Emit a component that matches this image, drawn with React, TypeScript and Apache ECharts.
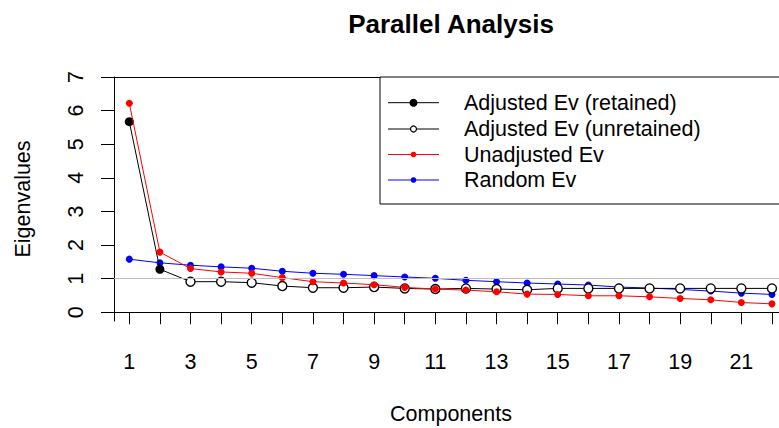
import React, { useEffect, useRef } from "react";
import * as echarts from "echarts";

const components = [1, 2, 3, 4, 5, 6, 7, 8, 9, 10, 11, 12, 13, 14, 15, 16, 17, 18, 19, 20, 21, 22];
const adjustedEv = [5.67, 1.28, 0.91, 0.91, 0.88, 0.78, 0.73, 0.73, 0.75, 0.71, 0.69, 0.71, 0.69, 0.67, 0.71, 0.71, 0.71, 0.71, 0.71, 0.71, 0.71, 0.71];
const retainedCount = 2;
const unadjustedEv = [6.22, 1.79, 1.3, 1.2, 1.16, 1.03, 0.91, 0.87, 0.82, 0.74, 0.69, 0.66, 0.61, 0.54, 0.53, 0.49, 0.49, 0.46, 0.41, 0.37, 0.29, 0.25];
const randomEv = [1.58, 1.47, 1.4, 1.35, 1.31, 1.22, 1.16, 1.13, 1.09, 1.05, 1.01, 0.95, 0.91, 0.87, 0.84, 0.81, 0.75, 0.72, 0.68, 0.63, 0.57, 0.53];
const yTicks = [0, 1, 2, 3, 4, 5, 6, 7];
const xTicks = [1, 2, 3, 4, 5, 6, 7, 8, 9, 10, 11, 12, 13, 14, 15, 16, 17, 18, 19, 20, 21, 22];
const xLabels = [1, 3, 5, 7, 9, 11, 13, 15, 17, 19, 21];
const legendNames = ["Adjusted Ev (retained)", "Adjusted Ev (unretained)", "Unadjusted Ev", "Random Ev"];
const titleText = "Parallel Analysis";
const xTitle = "Components";
const yTitle = "Eigenvalues";

const FONT = '"Liberation Sans", Arial, sans-serif';
const X_MIN = 0.5;
const X_MAX = 22.23;

export default function App() {
  const ref = useRef<HTMLDivElement>(null);
  useEffect(() => {
    if (!ref.current) return;
    const chart = echarts.init(ref.current, null, { renderer: "svg" });

    const adjData = components.map((c, i) => ({
      value: [c, adjustedEv[i]],
      symbolSize: 9,
      itemStyle:
        i < retainedCount
          ? { color: "#000", borderColor: "#000", borderWidth: 0 }
          : { color: "#fff", borderColor: "#000", borderWidth: 1.4 },
    }));

    const legendRowY = [102.7, 129, 154.5, 180];
    const legendColors = ["#000", "#000", "#ff0000", "#0000ff"];
    const legendGraphics: any[] = [
      {
        type: "rect",
        shape: { x: 380, y: 77, width: 520, height: 127 },
        style: { fill: "#fff", stroke: "#000", lineWidth: 1 },
        z: 100,
      },
    ];
    legendNames.forEach((name, i) => {
      const y = legendRowY[i];
      legendGraphics.push({
        type: "line",
        shape: { x1: 388, y1: y, x2: 439, y2: y },
        style: { stroke: legendColors[i], lineWidth: 1 },
        z: 101,
      });
      let r = 2.8;
      let fill = legendColors[i];
      let lw = 0;
      if (i === 0) r = 4;
      if (i === 1) {
        r = 3;
        fill = "#fff";
        lw = 1.2;
      }
      legendGraphics.push({
        type: "circle",
        shape: { cx: 413.5, cy: y, r },
        style: { fill, stroke: "#000", lineWidth: lw },
        z: 102,
      });
      legendGraphics.push({
        type: "text",
        x: 464,
        y,
        style: {
          text: name,
          fill: "#000",
          font: `21.5px ${FONT}`,
          textAlign: "left",
          textVerticalAlign: "middle",
        },
        z: 102,
      });
    });

    chart.setOption({
      animation: false,
      backgroundColor: "#fff",
      textStyle: { fontFamily: FONT },
      grid: { left: 114, top: 77, bottom: 107, right: 0, show: false },
      xAxis: [
        {
          type: "value",
          min: X_MIN,
          max: X_MAX,
          splitLine: { show: false },
          axisLine: { show: true, lineStyle: { color: "#000", width: 1 } },
          axisTick: { show: true, length: 12, lineStyle: { color: "#000" }, customValues: xTicks },
          axisLabel: { show: true, customValues: xLabels, color: "#000", fontSize: 21.5, fontFamily: FONT, margin: 30 },
        },
        {
          type: "value",
          position: "top",
          min: X_MIN,
          max: X_MAX,
          splitLine: { show: false },
          axisLine: { show: true, lineStyle: { color: "#000", width: 1 } },
          axisTick: { show: false },
          axisLabel: { show: false },
        },
      ],
      yAxis: {
        type: "value",
        min: -0.26,
        max: 7,
        splitLine: { show: false },
        axisLine: { show: true, lineStyle: { color: "#000", width: 1 } },
        axisTick: { show: true, length: 13, lineStyle: { color: "#000" }, customValues: yTicks },
        axisLabel: { show: true, customValues: yTicks, rotate: 90, color: "#000", fontSize: 21.5, fontFamily: FONT, margin: 27 },
      },
      graphic: [
        {
          type: "text",
          x: 451,
          y: 24,
          style: { text: titleText, fill: "#000", font: `bold 26px ${FONT}`, textAlign: "center", textVerticalAlign: "middle" },
        },
        {
          type: "text",
          x: 451,
          y: 414,
          style: { text: xTitle, fill: "#000", font: `21.5px ${FONT}`, textAlign: "center", textVerticalAlign: "middle" },
        },
        {
          type: "text",
          x: 23,
          y: 199,
          rotation: Math.PI / 2,
          style: { text: yTitle, fill: "#000", font: `21.5px ${FONT}`, textAlign: "center", textVerticalAlign: "middle" },
        },
        ...legendGraphics,
      ],
      series: [
        {
          type: "line",
          name: "ref",
          data: [],
          silent: true,
          z: 1,
          markLine: {
            silent: true,
            symbol: ["none", "none"],
            label: { show: false },
            lineStyle: { color: "#bebebe", type: "solid", width: 1 },
            data: [{ yAxis: 1 }],
          },
        },
        {
          type: "line",
          name: "Random Ev",
          data: components.map((c, i) => [c, randomEv[i]]),
          symbol: "circle",
          symbolSize: 7,
          lineStyle: { color: "#0000ff", width: 1 },
          itemStyle: { color: "#0000ff" },
          z: 2,
        },
        {
          type: "line",
          name: "Adjusted Ev",
          data: adjData,
          symbol: "circle",
          lineStyle: { color: "#000", width: 1 },
          z: 3,
        },
        {
          type: "line",
          name: "Unadjusted Ev",
          data: components.map((c, i) => [c, unadjustedEv[i]]),
          symbol: "circle",
          symbolSize: 7,
          lineStyle: { color: "#ff0000", width: 1 },
          itemStyle: { color: "#ff0000" },
          z: 4,
        },
      ],
    });
    return () => chart.dispose();
  }, []);
  return <div ref={ref} style={{ position: "absolute", left: 0, top: 0, width: 779, height: 428 }} />;
}
